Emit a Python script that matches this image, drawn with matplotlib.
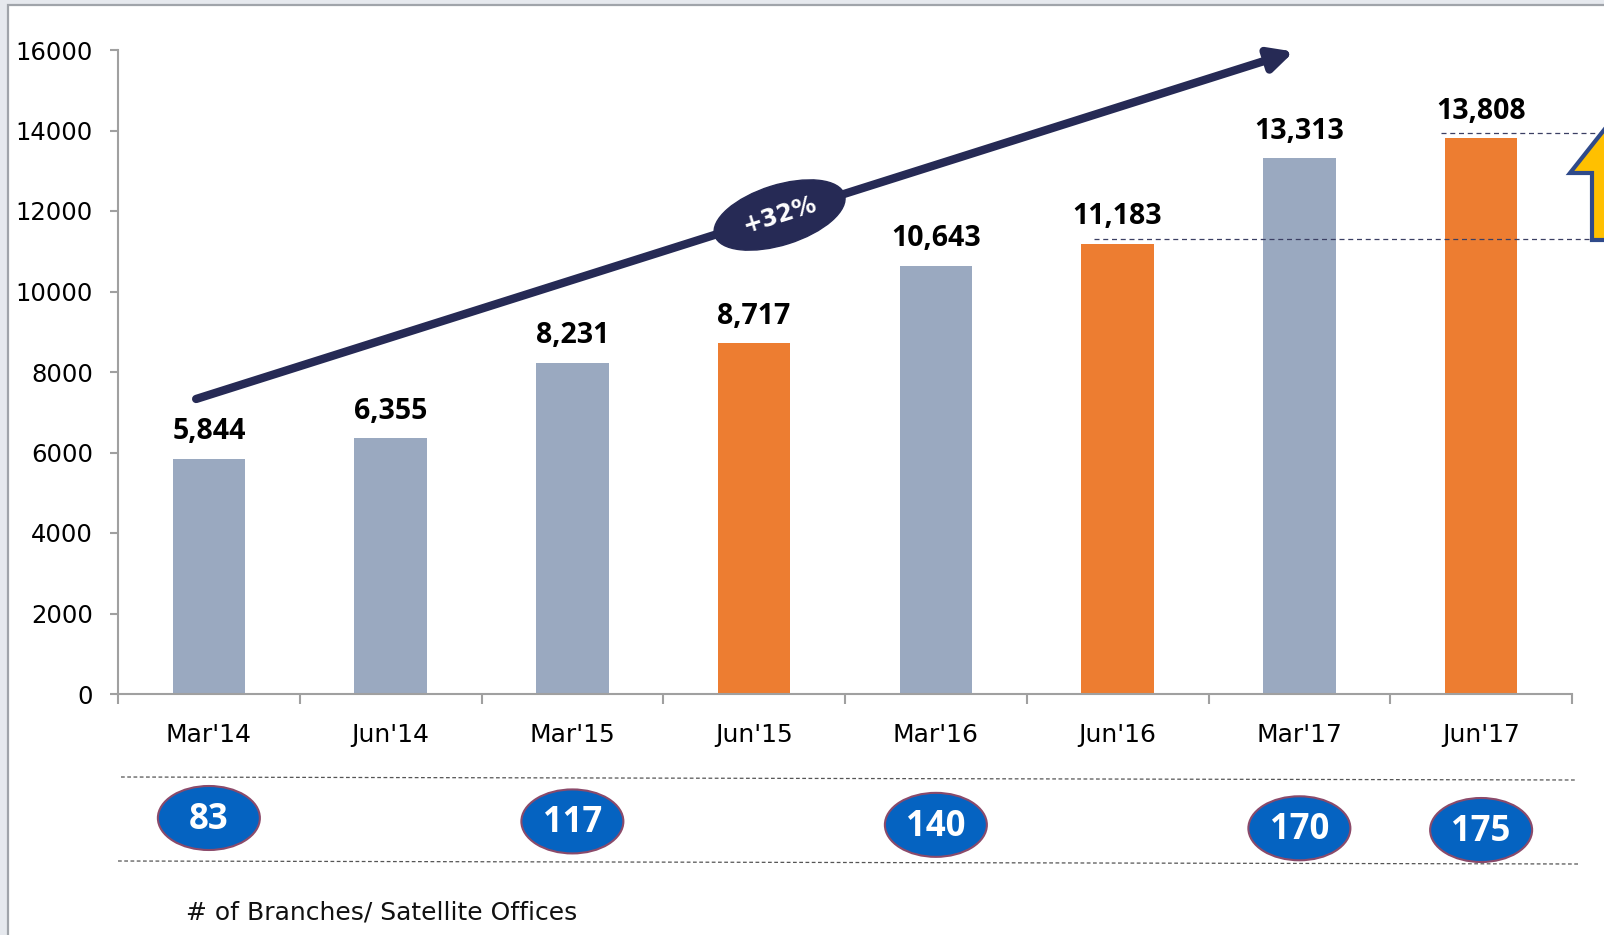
import matplotlib
matplotlib.use("Agg")
import matplotlib.pyplot as plt
import matplotlib.transforms as mtransforms
from matplotlib.patches import Ellipse, Rectangle, Polygon

# --- data -------------------------------------------------------------------
categories = ["Mar'14", "Jun'14", "Mar'15", "Jun'15", "Mar'16", "Jun'16", "Mar'17", "Jun'17"]
customers = [5844, 6355, 8231, 8717, 10643, 11183, 13313, 13808]
highlight = [False, False, False, True, False, True, False, True]
branch_idx = [0, 2, 4, 6, 7]
branch_counts = [83, 117, 140, 170, 175]
growth_label = "+32%"
footer = "# of Branches/ Satellite Offices"
yticks = list(range(0, 16001, 2000))

GREY = "#9AA9C0"
ORANGE = "#ED7D31"
NAVY = "#262A55"
BLUE = "#0563C1"
BOLD_FONT = "Open Sans"

W, H = 1604, 935
fig = plt.figure(figsize=(W / 100, H / 100), dpi=100, facecolor="#E6E9EE")
# white slide panel with its grey frame
fig.patches.append(Rectangle((8 / W, -0.01), 1.0, 1 - 5 / H + 0.01,
                             transform=fig.transFigure, facecolor="white",
                             edgecolor="#A0A4AA", lw=1.6, zorder=-5))

ax = fig.add_axes([118 / W, 1 - 694 / H, (1572 - 118) / W, (694 - 50) / H])
ax.set_facecolor("none")
x = list(range(len(categories)))
colors = [ORANGE if h else GREY for h in highlight]
ax.bar(x, customers, width=0.4, color=colors, zorder=2)
ax.set_xlim(-0.5, len(categories) - 0.5)
ax.set_ylim(0, 16000)

for xi, v in zip(x, customers):
    ax.annotate(f"{v:,}", (xi, v), xytext=(0, 9), textcoords="offset points",
                ha="center", va="bottom", fontsize=20.5, fontweight="bold",
                family=BOLD_FONT, color="black")

for s in ("top", "right"):
    ax.spines[s].set_visible(False)
for s in ("left", "bottom"):
    ax.spines[s].set_color("#A0A0A0")
    ax.spines[s].set_linewidth(1.5)

ax.set_yticks(yticks)
ax.set_yticklabels([str(t) for t in yticks])
ax.tick_params(axis="y", length=6, width=1.5, color="#A0A0A0", pad=12,
               labelsize=17.5)
ax.set_xticks([i - 0.5 for i in x] + [len(x) - 0.5])
ax.set_xticklabels([])
ax.tick_params(axis="x", which="major", length=7, width=1.5, color="#A0A0A0")
ax.set_xticks(x, minor=True)
ax.set_xticklabels(categories, minor=True)
ax.tick_params(axis="x", which="minor", length=0, pad=21, labelsize=18)

# dashed reference levels for the latest two half-years (drawn over the bars)
lift = mtransforms.offset_copy(ax.transData, fig=fig, x=0, y=5, units="dots")
for start, lvl in [(6.78, customers[7]), (4.87, customers[5])]:
    ax.plot([start, 7.7], [lvl, lvl], ls=(0, (4, 3)), color="#3B3F63", lw=0.9,
            clip_on=False, zorder=3, transform=lift)

# overlay in pixel coordinates for decorations
fig.canvas.draw()
ov = fig.add_axes([0, 0, 1, 1])
ov.set_xlim(0, W)
ov.set_ylim(H, 0)
ov.axis("off")
ov.set_facecolor("none")


def to_px(xd, yd):
    px, py = ax.transData.transform((xd, yd))
    return px, H - py


# growth arrow
x0, y0 = to_px(-0.07, 7330)
x1, y1 = to_px(5.97, 15960)
ov.annotate("", xy=(x1, y1), xytext=(x0, y0),
            arrowprops=dict(arrowstyle="-|>,head_length=1.4,head_width=0.7",
                            color=NAVY, lw=6, shrinkA=0, shrinkB=0))
cx, cy = to_px(3.14, 11900)
ov.add_patch(Ellipse((cx, cy), 136, 60, angle=-17.5, color=NAVY, zorder=3))
ov.text(cx, cy, growth_label, color="white", fontsize=17, fontweight="bold",
        rotation=17.5, ha="center", va="center", zorder=4,
        family="DejaVu Sans")

# yellow block arrow peeking in at the right edge
ov.add_patch(Polygon([(1570, 173), (1604, 130), (1640, 173), (1625, 173),
                      (1625, 240), (1592, 240), (1592, 173)], closed=True,
                     facecolor="#FFC000", edgecolor="#2F4A8A", lw=3, zorder=3,
                     clip_on=True))

# branch row
ov.plot([121, 1575], [777, 780], ls=(0, (3, 2)), color="#555555", lw=0.9)
ov.plot([118, 1578], [861, 864], ls=(0, (3, 2)), color="#555555", lw=0.9)
for i, n in zip(branch_idx, branch_counts):
    bx, _ = to_px(i, 0)
    by = 818 + (bx - 209) / (1481 - 209) * 12
    ov.add_patch(Ellipse((bx, by), 102, 64, facecolor=BLUE,
                         edgecolor="#8B4A6A", lw=1.5, zorder=3))
    ov.text(bx, by + 2, str(n), color="white", fontsize=25, fontweight="bold",
            family=BOLD_FONT, ha="center", va="center", zorder=4)

ov.text(186, 913, footer, fontsize=18, ha="left", va="center", color="#111111")

fig.savefig("out.png", dpi=100, facecolor=fig.get_facecolor())
